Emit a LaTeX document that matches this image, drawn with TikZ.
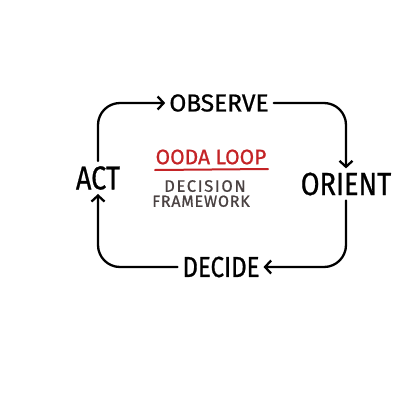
\documentclass[tikz,border=0pt]{standalone}
\usepackage{fontspec}
\setmainfont{Fira Sans}
\usetikzlibrary{arrows.meta}
\definecolor{oodared}{HTML}{C42326}
\definecolor{subgray}{HTML}{4A4242}
\tikzset{
  lbl/.style={inner sep=1pt, text=black},
  sub/.style={inner sep=0pt, text=subgray, text height=11.5pt, text depth=0pt},
  loopline/.style={line width=2.3pt, line cap=round, line join=round, rounded corners=22pt,
    -{Straight Barb[length=6pt,width=13pt,line width=2.3pt]}, shorten >=3pt, shorten <=4pt},
}
\begin{document}
\begin{tikzpicture}[x=1pt,y=-1pt]
\useasboundingbox[fill=white] (0,0) rectangle (400,400);
\node[lbl, font=\fontsize{24.5}{24.5}\selectfont\addfontfeatures{FakeBold=0.8}] (observe) at (219,103) {OBSERVE};
\node[lbl, xscale=0.82, font=\fontsize{33}{33}\selectfont\addfontfeatures{FakeBold=0.8}] (act) at (98,178) {ACT};
\node[lbl, xscale=0.85, font=\fontsize{32}{32}\selectfont\addfontfeatures{FakeBold=0.8}] (orient) at (346,184) {ORIENT};
\node[lbl, xscale=0.83, font=\fontsize{29}{29}\selectfont\addfontfeatures{FakeBold=0.8}] (decide) at (221,267) {DECIDE};
\node[inner sep=1pt, text=oodared, font=\fontsize{21}{21}\selectfont\addfontfeatures{FakeBold=0.8}] (title) at (211,157) {OODA LOOP};
\coordinate (ul1) at (155,170);
\coordinate (ul2) at (268,169);
\draw[oodared, line width=2pt, line cap=round] (ul1) -- (ul2);
\node[sub, font=\fontsize{16.5}{16.5}\selectfont\addfontfeatures{LetterSpace=10,FakeBold=0.8}] (dec) at (205,186) {DECISION};
\node[sub, font=\fontsize{16}{16}\selectfont\addfontfeatures{LetterSpace=5,FakeBold=0.8}] (frm) at (201,201) {FRAMEWORK};
\draw[loopline] (act.north) |- (observe.west);
\draw[loopline] (observe.east) -| (orient.north);
\draw[loopline] (orient.south) |- (decide.east);
\draw[loopline] (decide.west) -| (act.south);
\end{tikzpicture}
\end{document}
